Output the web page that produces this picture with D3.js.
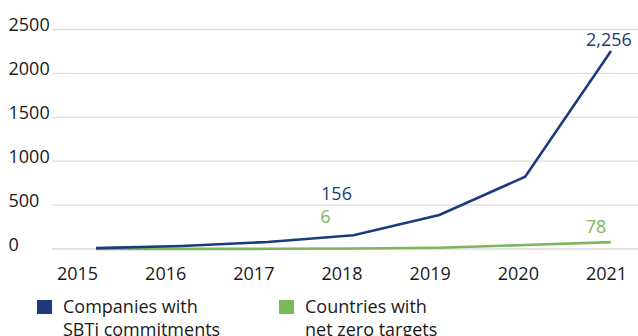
<!DOCTYPE html>
<html>
<head>
<meta charset="utf-8">
<script src="https://cdn.jsdelivr.net/npm/d3@7"></script>
<style>
  html, body { margin: 0; padding: 0; background: #fff; }
  svg { display: block; font-family: "Open Sans", "Noto Sans", sans-serif; }
</style>
</head>
<body>
<svg id="chart" width="638" height="336"></svg>
<script>
// Years on the x axis
const years = ["2015", "2016", "2017", "2018", "2019", "2020", "2021"];
// Companies with SBTi commitments
const companies = [10, 35, 80, 156, 387, 823, 2256];
// Countries with net zero targets
const countries = [1, 1, 2, 6, 15, 45, 78];
// Y axis ticks
const yTicks = [0, 500, 1000, 1500, 2000, 2500];
// Legend entries
const legendLabels = [["Companies with", "SBTi commitments"], ["Countries with", "net zero targets"]];

const BLUE = "#1d3a7c";
const GREEN = "#7ab85a";
const TEXT = "#1a1a1a";
const FS = 18;

const svg = d3.select("#chart");

const y = d3.scaleLinear().domain([0, 2500]).range([249, 29.5]);
// line vertices
const x = d3.scalePoint().domain(years).range([96, 611]);
// year labels along the bottom
const xLab = d3.scalePoint().domain(years).range([77, 606]);

// gridlines
svg.append("g").selectAll("line").data(yTicks).join("line")
  .attr("x1", 52).attr("x2", 638)
  .attr("y1", d => y(d)).attr("y2", d => y(d))
  .attr("stroke", "#dcdcdc").attr("stroke-width", 1.3);

// y tick labels, left aligned
svg.append("g").selectAll("text").data(yTicks).join("text")
  .attr("x", 8.5).attr("y", d => y(d) + 1.5)
  .attr("font-size", FS).attr("fill", TEXT)
  .text(d => d);

// x axis labels
const xAxis = d3.axisBottom(xLab).tickSize(0).tickPadding(0);
const gx = svg.append("g").attr("transform", "translate(0,262)").call(xAxis);
gx.select(".domain").remove();
gx.selectAll("text").attr("font-size", FS).attr("fill", TEXT)
  .attr("font-family", "Open Sans, Noto Sans, sans-serif").attr("dy", "0.98em");

const line = d3.line().x((d, i) => x(years[i])).y(d => y(d));

svg.append("path").datum(countries).attr("d", line)
  .attr("fill", "none").attr("stroke", GREEN).attr("stroke-width", 2.6);
svg.append("path").datum(companies).attr("d", line)
  .attr("fill", "none").attr("stroke", BLUE).attr("stroke-width", 2.6);

// value labels
const valueLabels = [
  { series: companies, i: 3, color: BLUE, dx: -17, dy: -35 },
  { series: countries, i: 3, color: GREEN, dx: -28, dy: -25.5 },
  { series: countries, i: 6, color: GREEN, dx: -15, dy: -9 },
  { series: companies, i: 6, color: BLUE, dx: -2, dy: -5 }
];
const fmt = d3.format(",");
svg.append("g").selectAll("text").data(valueLabels).join("text")
  .attr("x", d => x(years[d.i]) + d.dx)
  .attr("y", d => y(d.series[d.i]) + d.dy)
  .attr("text-anchor", "middle")
  .attr("font-size", FS).attr("fill", d => d.color)
  .text(d => fmt(d.series[d.i]));

// legend
const legendX = [37, 279];
const legendColors = [BLUE, GREEN];
const lg = svg.append("g").selectAll("g").data(legendLabels).join("g")
  .attr("transform", (d, i) => `translate(${legendX[i]},0)`);
lg.append("rect").attr("x", 0).attr("y", 300).attr("width", 15).attr("height", 14)
  .attr("fill", (d, i) => legendColors[i]);
lg.append("text").attr("x", 26).attr("y", 313)
  .attr("font-size", FS).attr("fill", TEXT)
  .selectAll("tspan").data(d => d).join("tspan")
  .attr("x", 26).attr("dy", (d, i) => i === 0 ? 0 : 22.5)
  .text(d => d);
</script>
</body>
</html>
